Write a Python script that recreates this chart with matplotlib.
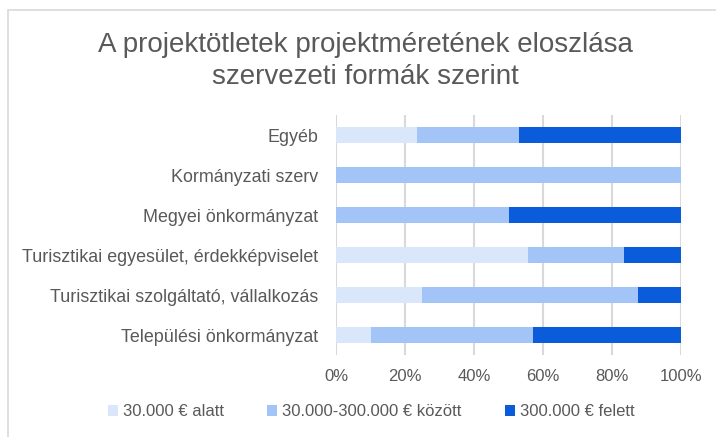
import matplotlib.pyplot as plt
import numpy as np
from matplotlib.patches import Rectangle

plt.rcParams['font.family'] = ['Liberation Sans', 'DejaVu Sans']

categories = [
    'Egyéb',
    'Kormányzati szerv',
    'Megyei önkormányzat',
    'Turisztikai egyesület, érdekképviselet',
    'Turisztikai szolgáltató, vállalkozás',
    'Települési önkormányzat',
]
series_names = ['30.000 € alatt', '30.000-300.000 € között', '300.000 € felett']
below_30k = [23.5, 0.0, 0.0, 55.6, 25.0, 10.0]
between = [29.4, 100.0, 50.0, 27.8, 62.5, 47.2]
above_300k = [47.1, 0.0, 50.0, 16.7, 12.5, 42.8]
ticks = [0, 20, 40, 60, 80, 100]
tick_labels = ['0%', '20%', '40%', '60%', '80%', '100%']

colors = ['#DAE6FA', '#A3C4F7', '#0B5CDA']
text_col = '#595959'
grid_col = '#D9D9D9'

fig = plt.figure(figsize=(7.16, 4.37), dpi=100)
fig.patches.append(Rectangle((8 / 716, -0.1), 1.2, 1.1 - 10 / 437,
                             transform=fig.transFigure, fill=False,
                             edgecolor=grid_col, linewidth=1.2))

ax = fig.add_axes([336 / 716, 1 - 355 / 437, 345 / 716, 240 / 437])

y = np.arange(len(categories))
left = np.zeros(len(categories))
for vals, name, c in zip([below_30k, between, above_300k], series_names, colors):
    vals = np.array(vals)
    ax.barh(y, vals, left=left, height=0.4, color=c, label=name, zorder=3)
    left += vals

ax.set_ylim(len(categories) - 0.5, -0.5)
ax.set_xlim(0, 100)
ax.set_xticks(ticks)
ax.set_xticklabels(tick_labels)
ax.set_yticks(y)
ax.set_yticklabels(categories)
ax.tick_params(axis='x', length=0, labelsize=12, colors=text_col, pad=10)
ax.tick_params(axis='y', length=0, labelsize=12.9, colors=text_col, pad=13)
ax.grid(axis='x', color=grid_col, linewidth=1.5, zorder=0)
for s in ax.spines.values():
    s.set_visible(False)

fig.text(365 / 716, 1 - 61 / 437, 'A projektötletek projektméretének eloszlása\nszervezeti formák szerint',
         ha='center', va='center', fontsize=20, color=text_col, linespacing=1.25)

fig.legend(loc='center', bbox_to_anchor=(371 / 716, 1 - 412 / 437), ncol=3, frameon=False,
           fontsize=12, labelcolor=text_col, handlelength=0.6, handleheight=0.6,
           handletextpad=0.3, columnspacing=2.6)

fig.savefig('out.png', dpi=100)
